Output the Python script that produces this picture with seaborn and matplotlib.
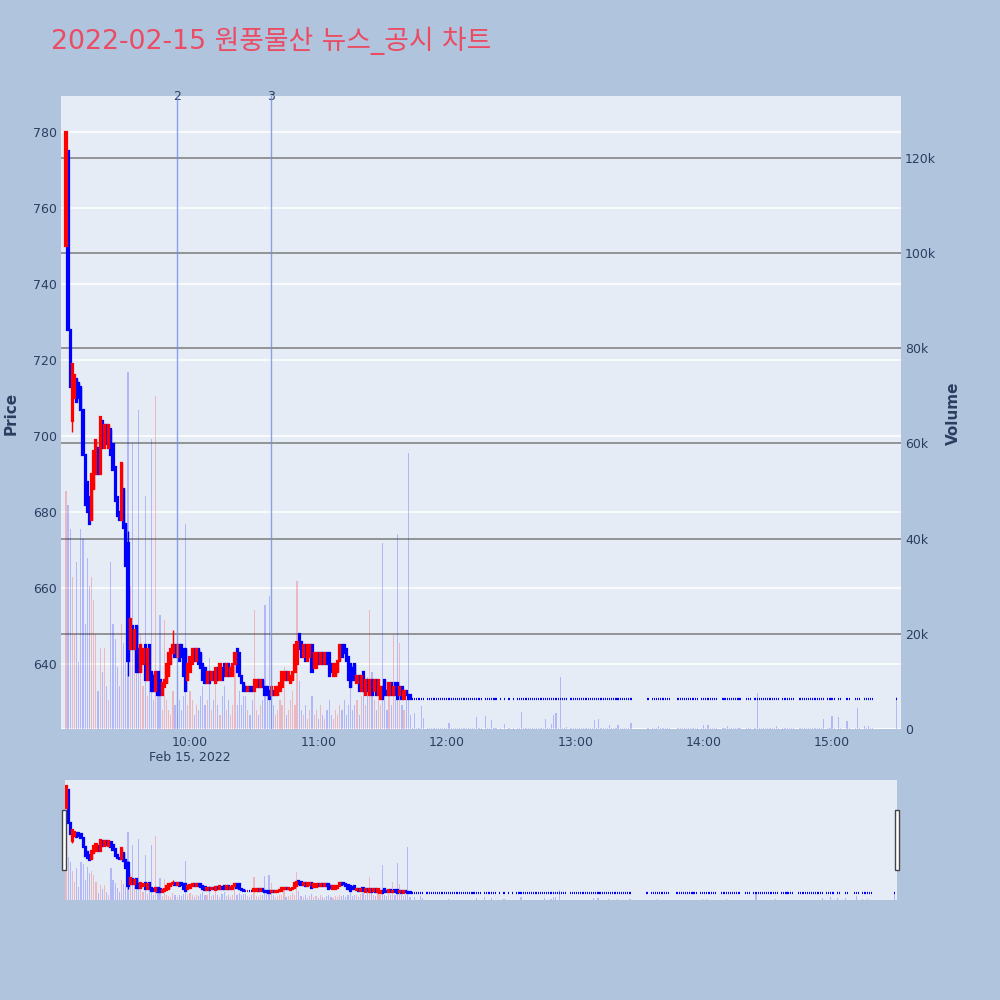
import numpy as np
import pandas as pd
import matplotlib
matplotlib.use("Agg")
import matplotlib.pyplot as plt
import seaborn as sns
from matplotlib.transforms import blended_transform_factory
from matplotlib.patches import Rectangle

# ---------------- data ----------------
TITLE = "2022-02-15 원풍물산 뉴스_공시 차트"

# minute offsets from 09:00; active trading candles start at minute 2
active_start = 2
active_open = [
    750, 775, 728, 704, 710, 715, 714, 713, 707, 695,
    688, 684, 678, 686, 690, 697, 690, 704, 697, 703,
    697, 702, 698, 692, 684, 680, 678, 686, 677, 672,
    644, 650, 644, 650, 644, 638, 640, 645, 636, 645,
    638, 637, 633, 638, 636, 632, 634, 635, 637, 640,
    643, 645, 642, 645, 645, 644, 644, 636, 638, 640,
    644, 641, 644, 643, 640, 639, 635, 638, 636, 638,
    635, 639, 636, 639, 640, 637, 640, 637, 637, 640,
    644, 643, 637, 635, 634, 633, 634, 634, 633, 634,
    636, 634, 636, 634, 634, 633, 632, 633, 632, 632,
    633, 634, 636, 638, 636, 635, 636, 638, 640, 648,
    646, 642, 645, 641, 642, 645, 639, 639, 643, 640,
    643, 640, 643, 643, 640, 637, 637, 638, 641, 645,
    645, 644, 642, 640, 639, 640, 635, 637, 633, 638,
    632, 636, 632, 636, 633, 636, 632, 631, 634, 636,
    633, 632, 635, 632, 635, 635, 632, 634, 631, 633,
    632, 632,
]
active_close = [
    780, 728, 713, 719, 716, 709, 710, 707, 695, 682,
    680, 677, 690, 696, 699, 690, 705, 697, 703, 698,
    703, 695, 691, 683, 679, 678, 693, 676, 666, 641,
    652, 644, 649, 638, 638, 645, 644, 636, 644, 636,
    633, 633, 638, 632, 632, 635, 636, 640, 643, 644,
    645, 642, 645, 641, 642, 637, 633, 640, 642, 644,
    641, 644, 640, 639, 636, 635, 638, 635, 638, 636,
    639, 636, 640, 636, 637, 640, 637, 639, 640, 643,
    638, 637, 635, 633, 633, 634, 633, 633, 636, 636,
    634, 636, 634, 632, 632, 631, 634, 632, 634, 634,
    635, 638, 638, 636, 638, 637, 638, 645, 646, 644,
    642, 645, 641, 645, 645, 638, 643, 643, 640, 643,
    640, 643, 640, 637, 638, 640, 640, 641, 645, 642,
    643, 641, 636, 634, 636, 636, 637, 633, 637, 633,
    636, 633, 636, 632, 636, 632, 636, 634, 631, 632,
    632, 635, 632, 634, 632, 631, 634, 631, 633, 632,
    631, 631,
]
# volume in thousands of shares
active_volume = [
    50, 47, 42, 32, 20, 35, 14, 42, 40, 22,
    36, 30, 32, 27, 20, 8, 17, 12, 17, 9,
    6, 35, 22, 19, 13, 9, 22, 18, 14, 75,
    30, 60, 18, 12, 67, 20, 9, 49, 7, 12,
    61, 6, 70, 10, 24, 4, 23, 6, 4, 3,
    8, 5, 3, 6, 4, 7, 43, 5, 8, 6,
    3, 5, 4, 7, 9, 5, 6, 15, 4, 6,
    10, 5, 3, 7, 9, 4, 6, 3, 5, 16,
    5, 8, 5, 7, 7, 4, 3, 6, 25, 4,
    3, 5, 6, 26, 8, 28, 19, 5, 3, 4,
    6, 5, 13, 3, 4, 6, 8, 5, 31, 10,
    4, 3, 5, 2, 4, 7, 3, 4, 2, 5,
    3, 2, 4, 6, 3, 2, 4, 3, 5, 4,
    6, 3, 5, 9, 4, 5, 6, 3, 7, 8,
    5, 11, 25, 12, 6, 4, 10, 5, 39, 6,
    4, 7, 5, 20, 6, 41, 18, 5, 4, 6,
    58, 3,
]
wick_high = {2: 780, 5: 719, 31: 675, 52: 649, 111: 648}
wick_low = {2: 750, 5: 701, 31: 637}

# afternoon: price stays at 631, trades only in some minutes
flat_price = 631
flat_ranges = [(164, 169), (171, 196), (198, 201), (202, 203), (205, 205), (207, 207),
               (209, 209), (211, 211), (213, 217), (218, 233), (234, 236), (238, 247),
               (248, 266), (274, 274), (276, 284), (288, 297), (299, 306), (309, 317),
               (320, 322), (324, 335), (337, 339), (340, 342), (345, 356), (358, 361),
               (363, 364), (367, 368), (371, 373), (375, 379), (390, 390)]
flat_volume = {165: 3.3, 168: 4.8, 169: 2.3, 181: 1.3, 194: 2.6, 198: 2.8, 201: 1.9,
               207: 1.0, 215: 3.5, 226: 2.0, 229: 1.0, 230: 3.0, 231: 3.3, 233: 10.9,
               236: 0.5, 249: 1.8, 251: 2.0, 256: 0.8, 260: 0.8, 266: 1.3, 279: 0.6,
               300: 0.9, 302: 0.9, 311: 0.6, 325: 7.5, 334: 0.6, 356: 2.1, 360: 2.8,
               363: 2.6, 367: 1.7, 372: 4.4, 375: 0.7, 377: 0.7, 390: 6.8}
flat_default_volume = 0.3

news_minutes = [54, 98]
news_labels = ["2", "3"]

price_ticks = [640, 660, 680, 700, 720, 740, 760, 780]
volume_ticks = [0, 20, 40, 60, 80, 100, 120]
volume_tick_labels = ["0", "20k", "40k", "60k", "80k", "100k", "120k"]
time_ticks = [60, 120, 180, 240, 300, 360]
time_tick_labels = ["10:00\nFeb 15, 2022", "11:00", "12:00", "13:00", "14:00", "15:00"]

# ---------------- build table ----------------
rows = []
for i, (o, c, v) in enumerate(zip(active_open, active_close, active_volume)):
    m = active_start + i
    rows.append((m, o, c, wick_high.get(m, max(o, c)), wick_low.get(m, min(o, c)), v))
flat_minutes = sorted({m for a, b in flat_ranges for m in range(a, b + 1)})
for m in flat_minutes:
    rows.append((m, flat_price, flat_price, flat_price, flat_price,
                 flat_volume.get(m, flat_default_volume)))
df = pd.DataFrame(rows, columns=["minute", "open", "close", "high", "low", "volume"])
df["dir"] = np.where(df["close"] > df["open"], "up", "down")
df["bottom"] = df[["open", "close"]].min(axis=1)
df["body"] = (df["close"] - df["open"]).abs()

UP, DOWN = "#FF0000", "#0000FF"
palette = {"up": UP, "down": DOWN}

# ---------------- style ----------------
sns.set_theme(style="white")
plt.rcParams["font.family"] = ["DejaVu Sans", "Noto Sans CJK KR"]
TXT = "#2a3f5f"
BG = "#B0C4DE"
PLOT_BG = "#E5ECF6"

fig = plt.figure(figsize=(10, 10), dpi=100, facecolor=BG)

P_RANGE = (623, 789.5)
V_RANGE = (0, 133)
X_RANGE = (-0.3, 392.2)


def draw_panel(ax_vol, ax_price, xr, pr, vr, main):
    ax_vol.set_facecolor(PLOT_BG)
    sns.histplot(data=df, x="minute", weights="volume", hue="dir", hue_order=["up", "down"],
                 palette=palette, discrete=True, shrink=0.55, alpha=0.22, linewidth=0,
                 legend=False, ax=ax_vol, zorder=2)
    ax_vol.set_xlim(*xr)
    ax_vol.set_ylim(*vr)
    ax_price.set_ylim(*pr)
    ax_price.patch.set_visible(False)
    if main:
        tr = blended_transform_factory(ax_vol.transAxes, ax_price.transData)
        for p in price_ticks:
            ax_vol.plot([0, 1], [p, p], transform=tr, color="white", lw=1.1, zorder=0.5)
        for v in volume_ticks[1:]:
            ax_vol.axhline(v, color="#8c8c8c", lw=1.3, zorder=1)
        ax_vol.axhline(0, color="white", lw=2, zorder=1)
    for d, sub in df.groupby("dir"):
        col = palette[d]
        ax_price.vlines(sub["minute"], sub["low"], sub["high"], color=col, lw=1, zorder=3)
        ax_price.bar(sub["minute"], sub["body"], bottom=sub["bottom"], width=0.55,
                     color=col, edgecolor=col, linewidth=1.6, zorder=4)
    for a in (ax_vol, ax_price):
        for s in a.spines.values():
            s.set_visible(False)
        a.set_xlabel("")
        a.set_ylabel("")


ax_vol = fig.add_axes([0.061, 0.271, 0.840, 0.633])
ax_price = ax_vol.twinx()
draw_panel(ax_vol, ax_price, X_RANGE, P_RANGE, V_RANGE, True)

ax_vol.yaxis.tick_right()
ax_vol.set_yticks(volume_ticks, volume_tick_labels)
ax_vol.set_xticks(time_ticks, time_tick_labels)
ax_vol.tick_params(axis="both", length=0, labelsize=9, colors=TXT)
ax_vol.tick_params(axis="x", pad=5)
ax_vol.tick_params(axis="y", pad=3)

ax_price.yaxis.tick_left()
ax_price.set_yticks(price_ticks)
ax_price.tick_params(axis="y", length=0, labelsize=9, colors=TXT, pad=3)

fig.text(0.011, 0.587, "Price", rotation=90, ha="center", va="center",
         fontsize=11, fontweight="bold", color=TXT)
fig.text(0.953, 0.587, "Volume", rotation=90, ha="center", va="center",
         fontsize=11, fontweight="bold", color=TXT)

tr_news = blended_transform_factory(ax_price.transData, ax_price.transAxes)
for m, lab in zip(news_minutes, news_labels):
    ax_price.axvline(m, color="#6f8ee8", lw=1, alpha=0.8, zorder=5)
    ax_price.text(m, 1.0, lab, transform=tr_news, ha="center", va="center",
                  fontsize=9, color=TXT, clip_on=False)

# range slider
s_vol = fig.add_axes([0.065, 0.100, 0.832, 0.120])
s_price = s_vol.twinx()
draw_panel(s_vol, s_price, (1.5, 391), (621, 788.4), (0, 132), False)
for a in (s_vol, s_price):
    a.set_xticks([])
    a.set_yticks([])

for gx in (62, 895):
    fig.add_artist(Rectangle((gx / 1000, 1 - 870 / 1000), 4 / 1000, 60 / 1000,
                             transform=fig.transFigure, facecolor="white",
                             edgecolor="#444444", lw=1, zorder=10))

fig.text(0.051, 1 - 0.041, TITLE, ha="left", va="center", fontsize=19.3,
         color="#EB4B63", family=["DejaVu Sans", "Noto Sans CJK KR"])

fig.savefig("out.png", dpi=100, facecolor=BG)
